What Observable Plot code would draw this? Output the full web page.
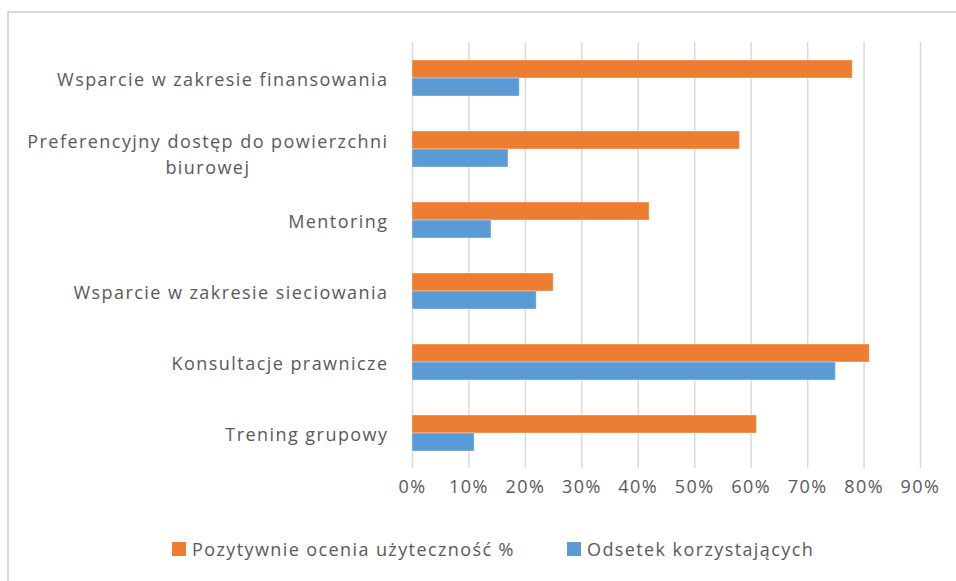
<!DOCTYPE html>
<html><head><meta charset="utf-8">
<script src="https://cdn.jsdelivr.net/npm/d3@7"></script>
<script src="https://cdn.jsdelivr.net/npm/@observablehq/plot@0.6"></script>
<style>
body{margin:0;background:#fff;font-family:"Open Sans",Lato,sans-serif;width:956px;height:581px;overflow:hidden;position:relative;}
#frame{position:absolute;left:7px;top:11px;width:1000px;height:620px;border-left:2px solid #d9d9d9;border-top:2px solid #d9d9d9;}
#chart{position:absolute;left:0;top:0;}
#legend{position:absolute;top:537px;left:0;width:956px;height:24px;font-size:18px;color:#595959;letter-spacing:1.4px;}
#legend .item{position:absolute;top:0;display:flex;align-items:center;height:24px;white-space:nowrap;}
#legend .sw{width:14px;height:14px;margin-right:6px;}
</style></head><body>
<div id="frame"></div>
<div id="chart"></div>
<div id="legend"></div>
<script>
const categories = [
  "Wsparcie w zakresie finansowania",
  "Preferencyjny dostęp do powierzchni biurowej",
  "Mentoring",
  "Wsparcie w zakresie sieciowania",
  "Konsultacje prawnicze",
  "Trening grupowy"
];
const categoryLabels = [
  "Wsparcie w zakresie finansowania",
  "Preferencyjny dostęp do powierzchni\nbiurowej",
  "Mentoring",
  "Wsparcie w zakresie sieciowania",
  "Konsultacje prawnicze",
  "Trening grupowy"
];
const seriesNames = ["Pozytywnie ocenia użyteczność %", "Odsetek korzystających"];
const pozytywnie = [0.78, 0.58, 0.42, 0.25, 0.81, 0.61];
const odsetek = [0.19, 0.17, 0.14, 0.22, 0.75, 0.11];
const seriesColors = ["#ED7D31", "#5B9BD5"];
const xTicks = [0, 0.1, 0.2, 0.3, 0.4, 0.5, 0.6, 0.7, 0.8, 0.9];

const data = categories.flatMap((c, i) => [
  {category: c, series: seriesNames[0], value: pozytywnie[i]},
  {category: c, series: seriesNames[1], value: odsetek[i]}
]);

const chart = Plot.plot({
  width: 956,
  height: 510,
  marginLeft: 412,
  marginRight: 36,
  marginTop: 40,
  marginBottom: 41,
  style: {fontFamily: "'Open Sans', Lato, sans-serif", fontSize: "18px", color: "#595959", background: "transparent", letterSpacing: "1.45px"},
  x: {domain: [0, 0.9], ticks: xTicks, tickFormat: d3.format(".0%"), tickSize: 0, tickPadding: 12, label: null},
  y: {domain: seriesNames, paddingInner: 0, paddingOuter: 0.93, axis: null},
  fy: {domain: categories, padding: 0, axis: null},
  color: {domain: seriesNames, range: seriesColors},
  marks: [
    Plot.gridX(xTicks, {stroke: "#d9d9d9", strokeOpacity: 1, strokeWidth: 1.5}),
    Plot.axisFy({anchor: "left", tickSize: 0, tickPadding: 24, label: null, lineHeight: 1.45,
                 tickFormat: d => categoryLabels[categories.indexOf(d)]}),
    Plot.barX(data, {x: "value", y: "series", fy: "category", fill: "series", stroke: "white", strokeOpacity: 0.35, strokeWidth: 1})
  ]
});
document.getElementById("chart").appendChild(chart);

// center the lines of a multi-line category label within its block
d3.select(chart).selectAll('g[aria-label="fy-axis tick label"] text').each(function() {
  const tspans = this.querySelectorAll("tspan");
  if (tspans.length > 1) {
    const w = this.getBBox().width;
    this.setAttribute("text-anchor", "middle");
    tspans.forEach(t => t.setAttribute("x", -w / 2));
    this.setAttribute("transform", (this.getAttribute("transform") || "") + " translate(0,4)");
  }
});

const legend = d3.select("#legend");
const legendLeft = [172, 567];
seriesNames.forEach((name, i) => {
  const item = legend.append("div").attr("class", "item").style("left", legendLeft[i] + "px");
  item.append("div").attr("class", "sw").style("background", seriesColors[i]);
  item.append("span").text(name);
});
</script>
</body></html>
